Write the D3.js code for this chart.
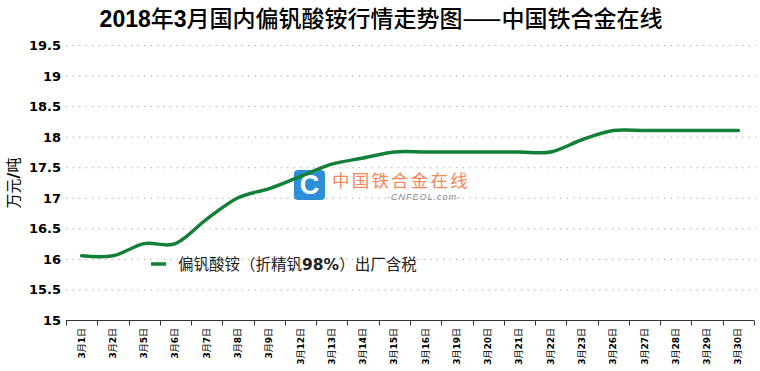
<!DOCTYPE html>
<html>
<head>
<meta charset="utf-8">
<script src="https://cdn.jsdelivr.net/npm/d3@7"></script>
<style>
  body { margin: 0; background: #fff; }
  svg { display: block; }
</style>
</head>
<body>
<div id="chart"></div>
<script>
// data
const dates = ["3月1日", "3月2日", "3月5日", "3月6日", "3月7日", "3月8日", "3月9日", "3月12日",
  "3月13日", "3月14日", "3月15日", "3月16日", "3月19日", "3月20日", "3月21日", "3月22日",
  "3月23日", "3月26日", "3月27日", "3月28日", "3月29日", "3月30日"];
const prices = [16.05, 16.05, 16.25, 16.25, 16.65, 17.0, 17.15, 17.35,
  17.55, 17.65, 17.75, 17.75, 17.75, 17.75, 17.75, 17.75,
  17.95, 18.1, 18.1, 18.1, 18.1, 18.1];
const yTicks = [15, 15.5, 16, 16.5, 17, 17.5, 18, 18.5, 19, 19.5];
const seriesName = ["偏钒酸铵（折精钒", "98%", "）出厂含税"];
const titleText = "2018年3月国内偏钒酸铵行情走势图——中国铁合金在线";

const W = 760, H = 371;
const cjk = "'Noto Sans CJK SC', sans-serif";
const num = "'DejaVu Sans', Verdana, sans-serif";

const svg = d3.select("#chart").append("svg").attr("width", W).attr("height", H);

const x = d3.scaleBand().domain(dates).range([66, 754]);
const y = d3.scaleLinear().domain([15, 19.5]).range([320, 45]);

// title: latin digits bold, CJK plain
const title = svg.append("text")
  .attr("x", 381).attr("y", 27)
  .attr("text-anchor", "middle")
  .style("font-size", "23px");
titleText.split(/(\d+)/).filter(s => s).forEach(s => {
  const isNum = /^\d+$/.test(s);
  title.append("tspan")
    .style("font-family", isNum ? "'Liberation Sans', Arial, sans-serif" : cjk)
    .style("font-weight", isNum ? "bold" : "500")
    .text(s);
});

// dotted grid
svg.append("g").selectAll("line")
  .data(yTicks.filter(d => d > 15))
  .join("line")
  .attr("x1", 66).attr("x2", 756)
  .attr("y1", d => y(d) + 0.5).attr("y2", d => y(d) + 0.5)
  .attr("stroke", "#b0b0b0")
  .attr("stroke-dasharray", "1.5,5");

// y labels
svg.append("g").selectAll("text")
  .data(yTicks)
  .join("text")
  .attr("x", 61).attr("y", d => y(d) + 5)
  .attr("text-anchor", "end")
  .style("font-family", num)
  .style("font-weight", "bold")
  .style("font-size", "13px")
  .text(d => d);

// y title
const yt = svg.append("text")
  .attr("transform", "translate(19,183) rotate(-90)")
  .attr("text-anchor", "middle")
  .style("font-size", "15px");
yt.append("tspan").style("font-family", cjk).text("万元");
yt.append("tspan").style("font-family", num).style("font-weight", "bold").style("font-size", "16px").text("/");
yt.append("tspan").style("font-family", cjk).text("吨");

// x axis
const xAxis = svg.append("g").attr("transform", "translate(0,320.5)");
xAxis.append("line").attr("x1", 66).attr("x2", 754).attr("stroke", "#333").attr("stroke-width", 1);
xAxis.selectAll("line.tick")
  .data(dates.concat(["end"]))
  .join("line")
  .attr("class", "tick")
  .attr("x1", (d, i) => Math.round(66 + i * x.step()) + 0.5)
  .attr("x2", (d, i) => Math.round(66 + i * x.step()) + 0.5)
  .attr("y1", 0).attr("y2", 5)
  .attr("stroke", "#333");

const labels = svg.append("g").selectAll("text")
  .data(dates)
  .join("text")
  .attr("transform", d => `translate(${x(d) + x.bandwidth() / 2 + 3},328) rotate(-90)`)
  .attr("text-anchor", "end")
  .style("font-size", "9px");
labels.each(function(d) {
  const m = d.match(/^(\d+)月(\d+)日$/);
  const t = d3.select(this);
  t.append("tspan").style("font-family", num).style("font-weight", "bold").text(m[1]);
  t.append("tspan").style("font-family", cjk).text("月");
  t.append("tspan").style("font-family", num).style("font-weight", "bold").text(m[2]);
  t.append("tspan").style("font-family", cjk).text("日");
});

// watermark
const wm = svg.append("g");
wm.append("rect").attr("x", 294).attr("y", 170).attr("width", 31).attr("height", 30)
  .attr("rx", 4).attr("fill", "#2e8fd6");
wm.append("text").attr("x", 309.5).attr("y", 194).attr("text-anchor", "middle")
  .style("font-family", "'Liberation Sans', Arial, sans-serif").style("font-weight", "bold")
  .style("font-size", "27px").attr("fill", "#fff").text("C");
wm.append("text").attr("x", 332).attr("y", 187)
  .style("font-family", cjk).style("font-size", "17.5px").attr("fill", "#f2875a")
  .style("letter-spacing", "2.2px")
  .text("中国铁合金在线");
wm.append("text").attr("x", 387).attr("y", 200)
  .style("font-family", "'Liberation Sans', Arial, sans-serif").style("font-style", "italic")
  .style("font-size", "9px").attr("fill", "#8a8a8a").style("letter-spacing", "1px")
  .text("-CNFEOL.com-");

// line
const line = d3.line()
  .x(d => x(d[0]) + x.bandwidth() / 2)
  .y(d => y(d[1]))
  .curve(d3.curveCatmullRom.alpha(0));

svg.append("path")
  .datum(dates.map((d, i) => [d, prices[i]]))
  .attr("fill", "none")
  .attr("stroke", "#138038")
  .attr("stroke-width", 3.5)
  .attr("stroke-linecap", "round")
  .attr("d", line);

// legend
svg.append("line").attr("x1", 151).attr("x2", 166).attr("y1", 264).attr("y2", 264)
  .attr("stroke", "#138038").attr("stroke-width", 3.5);
const lg = svg.append("text").attr("x", 178).attr("y", 270).style("font-size", "15.5px").attr("fill", "#222");
lg.append("tspan").style("font-family", cjk).text(seriesName[0]);
lg.append("tspan").style("font-family", num).style("font-weight", "bold").text(seriesName[1]);
lg.append("tspan").style("font-family", cjk).text(seriesName[2]);
</script>
</body>
</html>
